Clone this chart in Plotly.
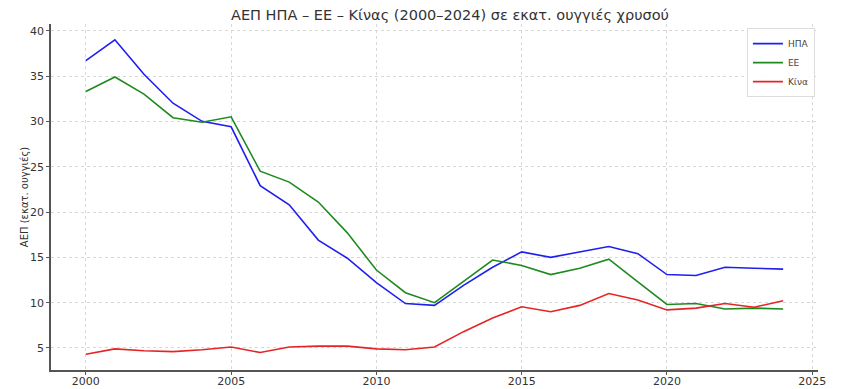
import plotly.graph_objects as go

years = list(range(2000, 2025))
usa = [36.7, 39.0, 35.2, 32.0, 30.0, 29.4, 22.9, 20.8, 16.9, 14.9, 12.2, 9.9, 9.7,
       11.9, 13.9, 15.6, 15.0, 15.6, 16.2, 15.4, 13.1, 13.0, 13.9, 13.8, 13.7]
eu = [33.3, 34.9, 33.0, 30.4, 29.9, 30.5, 24.5, 23.3, 21.1, 17.7, 13.6, 11.1, 10.0,
      12.3, 14.7, 14.1, 13.1, 13.8, 14.8, 12.3, 9.8, 9.9, 9.3, 9.4, 9.3]
china = [4.3, 4.9, 4.7, 4.6, 4.8, 5.1, 4.5, 5.1, 5.2, 5.2, 4.9, 4.8, 5.1,
         6.8, 8.3, 9.55, 9.0, 9.7, 11.0, 10.3, 9.2, 9.4, 9.9, 9.5, 10.2]
series_names = ["ΗΠΑ", "ΕΕ", "Κίνα"]
colors = ["#1f1fef", "#1f8a1f", "#e52525"]
x_ticks = [2000, 2005, 2010, 2015, 2020, 2025]
y_ticks = [5, 10, 15, 20, 25, 30, 35, 40]

fig = go.Figure()
for name, vals, c in zip(series_names, [usa, eu, china], colors):
    fig.add_trace(go.Scatter(x=years, y=vals, mode="lines", name=name,
                             line=dict(color=c, width=1.6)))

# page has an 8px body margin, so the figure is 8px smaller
W, H = 857, 381
font = "DejaVu Sans, sans-serif"
fig.update_layout(
    width=W, height=H,
    margin=dict(l=43, r=47, t=16, b=19, autoexpand=False),
    paper_bgcolor="white", plot_bgcolor="white",
    font=dict(family=font, color="#333333"),
    title=dict(text="ΑΕΠ ΗΠΑ – ΕΕ – Κίνας (2000–2024) σε εκατ. ουγγιές χρυσού",
               x=442 / W, xanchor="center", xref="container",
               y=1 - 2 / H, yanchor="top", yref="container",
               font=dict(size=14.5, color="#333333")),
    showlegend=True,
    legend=dict(x=0.996, y=0.988, xanchor="right", yanchor="top",
                bgcolor="rgba(255,255,255,0.9)", bordercolor="#dddddd", borderwidth=1,
                font=dict(size=9, color="#444444"), tracegroupgap=0,
                itemwidth=30),
)
fig.update_xaxes(range=[1998.8, 2025.2], tickvals=x_ticks, showgrid=True,
                 gridcolor="#d8d8d8", griddash="dot", gridwidth=1,
                 showline=True, linecolor="#555555", linewidth=1.5,
                 ticks="outside", ticklen=3, tickcolor="#555555", automargin=False,
                 ticklabelstandoff=-3,
                 tickfont=dict(size=11, color="#333333"), zeroline=False)
fig.update_yaxes(range=[2.57, 40.74], tickvals=y_ticks, showgrid=True,
                 gridcolor="#d8d8d8", griddash="dot", gridwidth=1,
                 showline=True, linecolor="#555555", linewidth=1.5,
                 ticks="outside", ticklen=3, tickcolor="#555555", automargin=False,
                 tickfont=dict(size=11, color="#333333"), zeroline=False,
                 title=dict(text="ΑΕΠ (εκατ. ουγγιές)", font=dict(size=10, color="#333333"),
                            standoff=0))
fig.write_html("out.html")
